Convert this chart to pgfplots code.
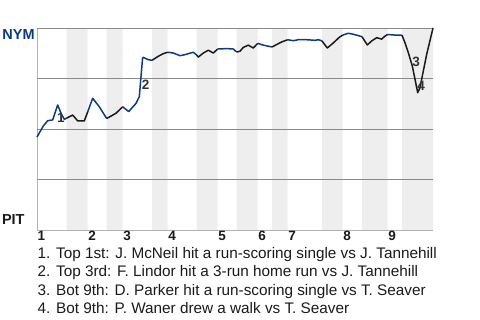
\documentclass[border=0pt]{standalone}
\usepackage{pgfplots}
\pgfplotsset{compat=1.18}
\usepackage{fontspec}
\setmainfont{Liberation Sans}
\definecolor{nym}{HTML}{0D3A80}
\definecolor{band}{HTML}{EEEEEE}
\definecolor{gridc}{HTML}{8A8A8A}
\definecolor{txt}{HTML}{1A1A1A}
\begin{document}
\begin{tikzpicture}
\useasboundingbox (0bp,0bp) rectangle (480bp,320bp);
\begin{axis}[
 at={(37bp,90bp)}, anchor=south west,
 width=396bp, height=202bp, scale only axis,
 xmin=0, xmax=396, ymin=0, ymax=1,
 axis x line*=bottom, axis y line*=left,
 axis line style={draw=gray!60, line width=0.8pt, -},
 ytick=\empty,
 major tick length=0,
 xtick={4.5,55.2,90.2,135.2,185.2,225.2,255.2,310.2,355.2},
 xticklabels={1,2,3,4,5,6,7,8,9},
 xticklabel style={font=\fontsize{13.5bp}{13.5bp}\selectfont\bfseries, text=txt, inner sep=1bp},
 clip=false,
 every axis plot/.append style={line width=1.5bp, line join=round, no marks},
]
\addplot[const plot, fill=band, draw=none] coordinates {
(0,0)(29.7,1)(50.7,0)(69.7,1)(85.7,0)(115,1)(130.7,0)(159.7,1)(180.7,0)(199.7,1)(220.7,0)(235,1)(250.7,0)(285,1)(305.7,0)(325,1)(350.7,0)(365,1)(396,1)} \closedcycle;
% grid lines
\addplot[gridc, line width=0.8pt] coordinates {(0,0.25)(396,0.25)};
\addplot[gridc, line width=0.8pt] coordinates {(0,0.5)(396,0.5)};
\addplot[gridc, line width=0.8pt] coordinates {(0,0.75)(396,0.75)};
\addplot[gridc, line width=0.8pt] coordinates {(0,1)(396,1)};
% top 1
\addplot[nym] coordinates {(0,0.46)(6.3,0.515)(10.7,0.541)(15.7,0.545)(20.7,0.619)(24,0.578)(27.3,0.548)(29.7,0.554)};
\addplot[txt] coordinates {(29.7,0.554)(35.7,0.569)(40.7,0.540)(47.3,0.540)(50.7,0.585)};
% 2
\addplot[nym] coordinates {(50.7,0.585)(55.7,0.652)(62.3,0.610)(69.7,0.552)};
\addplot[txt] coordinates {(69.7,0.552)(79,0.578)(85.7,0.610)};
% 3
\addplot[nym] coordinates {(85.7,0.610)(91.7,0.586)(99,0.627)(102.3,0.660)(105.5,0.847)(106.3,0.855)(111.3,0.843)(115,0.840)};
\addplot[txt] coordinates {(115,0.840)(121.3,0.860)(126.3,0.873)(130.7,0.880)};
% 4
\addplot[nym] coordinates {(130.7,0.880)(136.3,0.876)(143,0.863)(148,0.868)(156.3,0.880)(159.7,0.866)};
\addplot[txt] coordinates {(159.7,0.866)(161.3,0.856)(166.3,0.876)(171.3,0.890)(176.3,0.876)(180.7,0.896)};
% 5
\addplot[nym] coordinates {(180.7,0.896)(189.7,0.898)(196.3,0.896)(199.7,0.881)};
\addplot[txt] coordinates {(199.7,0.881)(203,0.885)(206.3,0.904)(211.3,0.915)(216.3,0.901)(220.7,0.924)};
% 6
\addplot[nym] coordinates {(220.7,0.924)(226.3,0.915)(235,0.906)};
\addplot[txt] coordinates {(235,0.906)(244.7,0.931)(250.7,0.942)};
% 7
\addplot[nym] coordinates {(250.7,0.942)(256.3,0.937)(261.3,0.942)(269.7,0.942)(278,0.939)(281.3,0.942)(285,0.936)};
\addplot[txt] coordinates {(285,0.936)(290.3,0.901)(296.3,0.926)(302.3,0.954)(305.7,0.965)};
% 8
\addplot[nym] coordinates {(305.7,0.965)(311.3,0.974)(316.3,0.969)(323,0.960)(325,0.957)};
\addplot[txt] coordinates {(325,0.957)(330.3,0.916)(334.7,0.936)(339.7,0.952)(344.7,0.945)(348,0.960)(350.7,0.968)};
% 9
\addplot[nym] coordinates {(350.7,0.968)(358,0.965)(365,0.964)};
\addplot[txt] coordinates {(365,0.964)(368,0.927)(371.3,0.878)(375.3,0.812)(378,0.746)(380.7,0.680)(383,0.704)(385.3,0.762)(389.7,0.870)(396,1.0)};

\node[font=\fontsize{13.5bp}{13.5bp}\selectfont\bfseries, text=black!80, inner sep=0pt] at (axis cs:24,0.553) {1};
\node[font=\fontsize{13.5bp}{13.5bp}\selectfont\bfseries, text=black!80, inner sep=0pt] at (axis cs:108.7,0.718) {2};
\node[font=\fontsize{13.5bp}{13.5bp}\selectfont\bfseries, text=black!80, inner sep=0pt] at (axis cs:379,0.832) {3};
\node[font=\fontsize{13.5bp}{13.5bp}\selectfont\bfseries, text=black!80, inner sep=0pt] at (axis cs:384,0.716) {4};
\end{axis}
\node[font=\fontsize{14.5bp}{14.5bp}\selectfont\bfseries, text=nym, inner sep=0pt] at (18.5bp,285bp) {NYM};
\node[font=\fontsize{14.5bp}{14.5bp}\selectfont\bfseries, text=txt, inner sep=0pt] at (13.3bp,100bp) {PIT};
\begin{scope}[every node/.style={anchor=base west, inner sep=0pt, font=\fontsize{15.3bp}{15.3bp}\selectfont, text=txt}]
\node at (37.5bp,61.5bp) {1. Top 1st: J. McNeil hit a run-scoring single vs J. Tannehill};
\node at (37.5bp,43bp) {2. Top 3rd: F. Lindor hit a 3-run home run vs J. Tannehill};
\node at (37.5bp,25bp) {3. Bot 9th: D. Parker hit a run-scoring single vs T. Seaver};
\node at (37.5bp,7bp) {4. Bot 9th: P. Waner drew a walk vs T. Seaver};
\end{scope}
\end{tikzpicture}
\end{document}
